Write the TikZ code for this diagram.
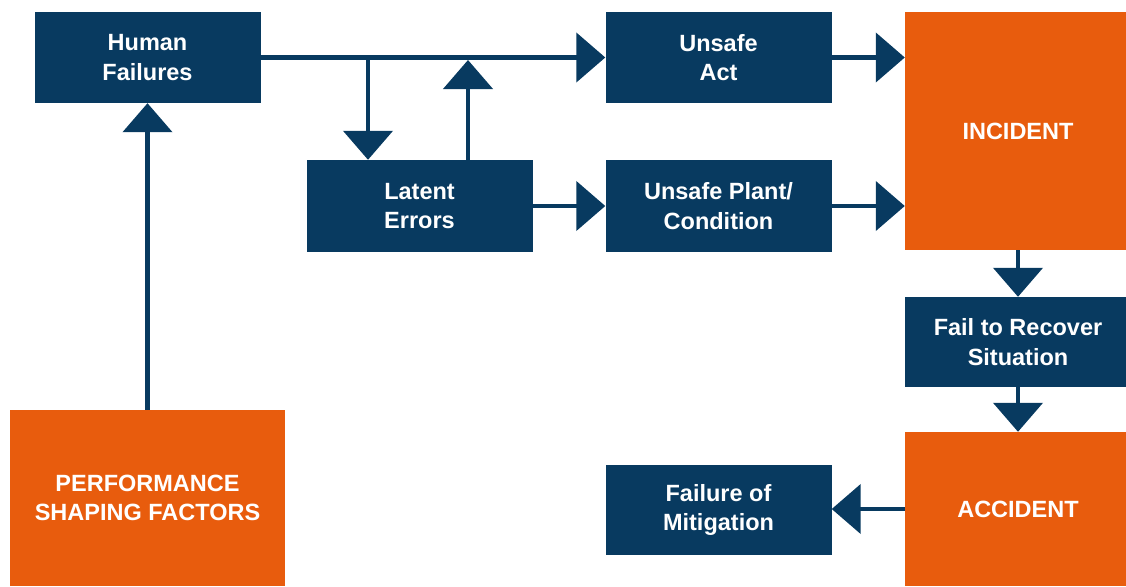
\documentclass[tikz,border=0pt]{standalone}
\usepackage{fontspec}
\setmainfont{Liberation Sans}
\usetikzlibrary{arrows.meta}
\definecolor{navy}{RGB}{8,58,96}
\definecolor{safety}{RGB}{232,92,13}
\begin{document}
\begin{tikzpicture}
    [x=1pt,y=-1pt,
     box/.style={fill=navy,text=white,font=\bfseries\fontsize{23.5}{29.5}\selectfont,align=center,inner sep=0pt,minimum width=226pt,minimum height=91pt},
     hot/.style={box,fill=safety},
     arr/.style={navy,line width=4.5pt,-{Triangle[length=29pt,width=49pt]}}]
		\useasboundingbox (0,0) rectangle (1126,586);

		\node [box] (human) at (147.5,57.5) {Human\\Failures};
		\node [box] (act) at (718.5,57.5) {Unsafe\\Act};
		\node [hot,minimum height=238pt] (incident) at (1018,131) {INCIDENT};
		\node [box,minimum height=92pt] (latent) at (419.5,206) {Latent\\Errors};
		\node [box,minimum height=92pt] (plant) at (718.5,206) {Unsafe Plant/\\Condition};
		\node [box,minimum height=90pt] (recover) at (1018,342) {Fail to Recover\\Situation};
		\node [hot,minimum height=154pt] (accident) at (1018,509) {ACCIDENT};
		\node [box,minimum height=90pt] (mitigation) at (718.5,510) {Failure of\\Mitigation};
		\node [hot,minimum width=275pt,minimum height=176pt] (psf) at (147.5,498) {PERFORMANCE\\SHAPING FACTORS};

		\coordinate (split) at (368,57.5);
		\coordinate (join) at (468,60);

		\draw[arr] (human) -- (act);
		\draw[arr] (split) -- (split |- latent.north);
		\draw[arr] (latent.north -| join) -- (join);
		\draw[arr] (latent) -- (plant);
		\draw[arr] (act.east) -- (act.east -| incident.west);
		\draw[arr] (plant.east) -- (plant.east -| incident.west);
		\draw[arr] (incident) -- (recover);
		\draw[arr] (recover) -- (accident);
		\draw[arr] (accident.west) -- (accident.west -| mitigation.east);
		\draw[arr] (psf) -- (human);
    \end{tikzpicture}
\end{document}
